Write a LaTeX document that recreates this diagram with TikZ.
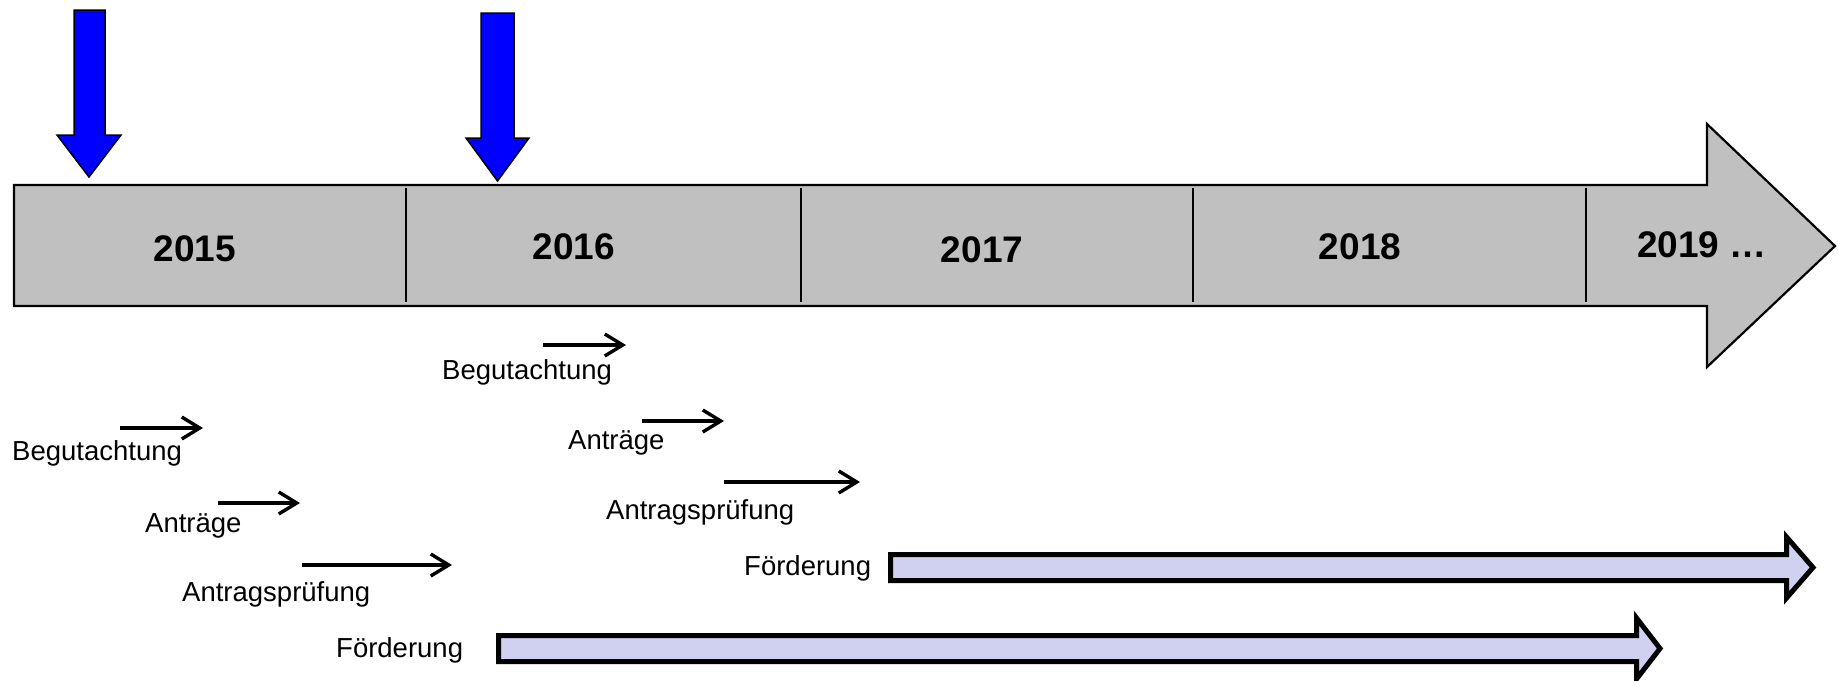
\documentclass[tikz,border=0pt]{standalone}
\usepackage{fontspec}
\setmainfont{Liberation Sans}
\usetikzlibrary{arrows.meta}
\definecolor{bargray}{RGB}{192,192,192}
\definecolor{lav}{RGB}{208,208,240}
\begin{document}
\begin{tikzpicture}[x=1pt,y=-1pt,
  yearlbl/.style={font=\fontsize{37}{44}\selectfont\bfseries, anchor=base, inner sep=0pt},
  phase/.style={font=\fontsize{27.5}{33}\selectfont, anchor=base west, inner sep=0pt},
  thinarrow/.style={line width=3.4pt, -{Straight Barb[length=18pt,width=22pt]}},
  fatarrow/.style={draw=black, line width=5pt, fill=lav, line join=miter, miter limit=10},
  bluearrow/.style={draw=black, line width=1.5pt, fill=blue, line join=miter},
  divider/.style={line width=2.8pt},
]
\useasboundingbox (0,0) rectangle (1838,680);

% timeline bar
\draw[fill=bargray, line width=2.2pt, line join=miter]
  (14,185) -- (1707,185) -- (1707,124) -- (1835,246) -- (1707,367) -- (1707,306) -- (14,306) -- cycle;
\draw[divider] (406,188) -- (406,302);
\draw[divider] (801,188) -- (801,302);
\draw[divider] (1193,188) -- (1193,302);
\draw[divider] (1586,188) -- (1586,302);

\node[yearlbl] (y2015) at (195,261) {2015};
\node[yearlbl] (y2016) at (574,259) {2016};
\node[yearlbl] (y2017) at (982,262) {2017};
\node[yearlbl] (y2018) at (1360,259) {2018};
\node[yearlbl, anchor=base west] (y2019) at (1637,257) {2019 …};

% blue arrows
\draw[bluearrow] (74,10) -- (105,10) -- (105,135) -- (121,135) -- (89,177) -- (57,135) -- (74,135) -- cycle;
\draw[bluearrow] (481,13) -- (514,13) -- (514,138) -- (529,138) -- (497.5,181) -- (466,138) -- (481,138) -- cycle;

% lower (2015) phases
\node[phase] (begA) at (12,460) {Begutachtung};
\node[phase] (antA) at (145,532) {Anträge};
\node[phase] (prfA) at (182,601) {Antragsprüfung};
\node[phase] (fdrA) at (336,657) {Förderung};
\coordinate (bA1) at (120,428); \coordinate (bA2) at (203,428);
\coordinate (aA1) at (218,503); \coordinate (aA2) at (300,503);
\coordinate (pA1) at (302,565); \coordinate (pA2) at (452,565);
\draw[thinarrow] (bA1) -- (bA2);
\draw[thinarrow] (aA1) -- (aA2);
\draw[thinarrow] (pA1) -- (pA2);
\draw[fatarrow] (498.5,635.5) -- (1636.5,635.5) -- (1636.5,618) -- (1660,648.5) -- (1636.5,679) -- (1636.5,661.5) -- (498.5,661.5) -- cycle;

% upper (2016) phases
\node[phase] (begB) at (442,379) {Begutachtung};
\node[phase] (antB) at (568,449) {Anträge};
\node[phase] (prfB) at (606,519) {Antragsprüfung};
\node[phase] (fdrB) at (744,575) {Förderung};
\coordinate (bB1) at (543,345); \coordinate (bB2) at (626,345);
\coordinate (aB1) at (642,421); \coordinate (aB2) at (724,421);
\coordinate (pB1) at (724,482); \coordinate (pB2) at (860,482);
\draw[thinarrow] (bB1) -- (bB2);
\draw[thinarrow] (aB1) -- (aB2);
\draw[thinarrow] (pB1) -- (pB2);
\draw[fatarrow] (890.5,554.5) -- (1786.5,554.5) -- (1786.5,537) -- (1813,567.5) -- (1786.5,598) -- (1786.5,580.5) -- (890.5,580.5) -- cycle;
\end{tikzpicture}
\end{document}
